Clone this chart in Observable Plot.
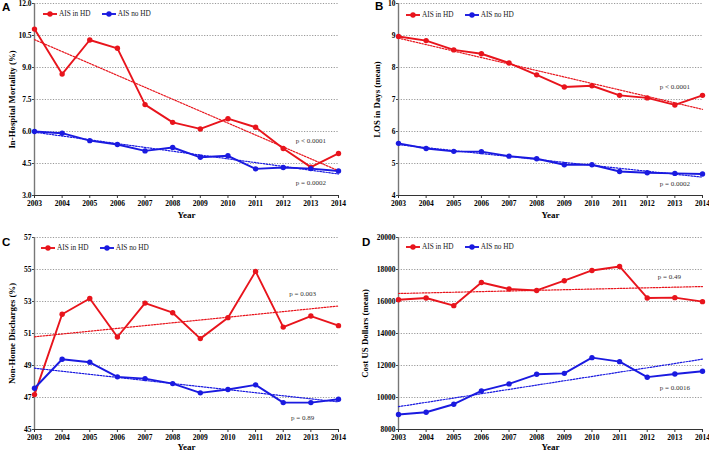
<!DOCTYPE html>
<html><head><meta charset="utf-8">
<script src="https://cdn.jsdelivr.net/npm/d3@7"></script>
<script src="https://cdn.jsdelivr.net/npm/@observablehq/plot@0.6"></script>
<style>
body{margin:0;background:#fff;}
#wrap{position:relative;width:709px;height:452px;overflow:hidden;font-family:"Liberation Serif","Times New Roman",serif;background:#fff;}
.panel{position:absolute;}
.panel svg{overflow:visible;}
.letter{position:absolute;font-family:"Liberation Sans",Arial,sans-serif;font-weight:bold;font-size:11.5px;line-height:1;color:#000;}
.legend{position:absolute;display:flex;align-items:center;font-size:7.3px;color:#222;white-space:nowrap;}
.legend .item{display:flex;align-items:center;margin-right:11px;}
.legend svg{margin-right:2px;}
</style></head>
<body><div id="wrap"></div>
<script>
// ---------------- data ----------------
const years = [2003,2004,2005,2006,2007,2008,2009,2010,2011,2012,2013,2014];
const seriesNames = ["AIS in HD","AIS no HD"];
const seriesColors = ["#e8141c","#1a1ae0"];

// A: In-hospital mortality (%)
const mortalityHD   = [10.80,8.69,10.29,9.90,7.26,6.43,6.12,6.60,6.20,5.20,4.33,4.97];
const mortalityNoHD = [6.00,5.92,5.57,5.39,5.09,5.25,4.79,4.86,4.25,4.31,4.26,4.15];
// B: LOS in days (mean)
const losHD   = [8.97,8.84,8.55,8.43,8.14,7.77,7.39,7.43,7.13,7.05,6.83,7.13];
const losNoHD = [5.63,5.47,5.38,5.37,5.23,5.15,4.96,4.96,4.75,4.71,4.69,4.67];
// C: Non-home discharges (%)
const nonHomeHD   = [47.18,52.20,53.19,50.78,52.90,52.30,50.68,51.99,54.88,51.40,52.09,51.49];
const nonHomeNoHD = [47.58,49.39,49.20,48.29,48.18,47.87,47.29,47.50,47.79,46.68,46.68,46.89];
// D: Cost US dollars (mean)
const costHD   = [16110,16220,15740,17190,16780,16690,17300,17940,18190,16220,16240,15990];
const costNoHD = [8940,9080,9580,10410,10850,11450,11510,12490,12240,11270,11470,11640];

// tick values
const ticksA = [3.0,4.5,6.0,7.5,9.0,10.5,12.0];
const ticksB = [4,5,6,7,8,9,10];
const ticksC = [45,47,49,51,53,55,57];
const ticksD = [8000,10000,12000,14000,16000,18000,20000];

// p-value annotations (year, value where the label sits)
const pA = [{text:"p < 0.0001", year:2013.0, value:5.58},{text:"p = 0.0002", year:2013.0, value:3.60}];
const pB = [{text:"p < 0.0001", year:2013.0, value:7.41},{text:"p = 0.0002", year:2013.0, value:4.38}];
const pC = [{text:"p = 0.003", year:2012.7, value:53.48},{text:"p = 0.89", year:2012.7, value:45.73}];
const pD = [{text:"p = 0.49", year:2012.8, value:17520},{text:"p = 0.0016", year:2013.0, value:10600}];

// ---------------- layout ----------------
const panels = [
  {key:"A", left:0,   top:0,   width:355, height:225, mt:3,  mr:17, mb:30, ml:34,
   yLabel:"In-Hospital Mortality (%)", ticks:ticksA, fmt:d3.format(".1f"), hd:mortalityHD, no:mortalityNoHD, pv:pA,
   letter:[2,2], legend:[43,9], ylo:26, xlo:22, tp:2.5},
  {key:"B", left:355, top:0,   width:354, height:225, mt:3,  mr:7,  mb:30, ml:43,
   yLabel:"LOS in Days (mean)", ticks:ticksB, fmt:d3.format("d"), hd:losHD, no:losNoHD, pv:pB,
   letter:[375,1], legend:[406,10], ylo:25, xlo:22, tp:2.5},
  {key:"C", left:0,   top:225, width:355, height:227, mt:12, mr:17, mb:23, ml:34,
   yLabel:"Non-Home Discharges (%)", ticks:ticksC, fmt:d3.format("d"), hd:nonHomeHD, no:nonHomeNoHD, pv:pC,
   letter:[2,237], legend:[41,243], ylo:26, xlo:20.5, tp:1.8},
  {key:"D", left:355, top:225, width:354, height:227, mt:12, mr:7,  mb:23, ml:43,
   yLabel:"Cost US Dollars (mean)", ticks:ticksD, fmt:d3.format("d"), hd:costHD, no:costNoHD, pv:pD,
   letter:[362,237], legend:[406,242], ylo:37, xlo:20.5, tp:1.8}
];

const wrap = document.getElementById("wrap");

for (const p of panels) {
  const rows = [];
  years.forEach((yr, i) => {
    rows.push({year: yr, value: p.hd[i], series: seriesNames[0]});
    rows.push({year: yr, value: p.no[i], series: seriesNames[1]});
  });
  const yDomain = [p.ticks[0], p.ticks[p.ticks.length - 1]];
  const chart = Plot.plot({
    width: p.width, height: p.height,
    marginTop: p.mt, marginRight: p.mr, marginBottom: p.mb, marginLeft: p.ml,
    style: {background: "transparent", fontFamily: "'Liberation Serif','Times New Roman',serif", overflow: "visible"},
    x: {domain: [years[0], years[years.length - 1]]},
    y: {domain: yDomain},
    color: {domain: seriesNames, range: seriesColors},
    marks: [
      Plot.gridY(p.ticks, {stroke: "#999", strokeOpacity: 1, strokeDasharray: "1.2,1.5", strokeWidth: 1}),
      Plot.axisY(p.ticks, {tickFormat: p.fmt, tickSize: 2, tickPadding: 1, fontSize: 7.5, fontWeight: "bold", label: null, stroke: "#444"}),
      Plot.axisY([], {label: p.yLabel, labelArrow: "none", labelAnchor: "center", labelOffset: p.ylo, fontSize: 8.8, fontWeight: "bold", tickSize: 0}),
      Plot.axisX(years, {tickFormat: d3.format("d"), tickSize: 3, tickPadding: p.tp, fontSize: 7.5, fontWeight: "bold", label: null, stroke: "#333"}),
      Plot.axisX([], {label: "Year", labelArrow: "none", labelAnchor: "center", labelOffset: p.xlo, fontSize: 9, fontWeight: "bold", tickSize: 0}),
      Plot.ruleX([years[0]], {stroke: "#777", strokeWidth: 1.4}),
      Plot.ruleY([yDomain[0]], {stroke: "#333", strokeWidth: 1}),
      Plot.line(rows, {x: "year", y: "value", z: "series", stroke: "series", strokeWidth: 1.9}),
      Plot.linearRegressionY(rows, {x: "year", y: "value", z: "series", stroke: "series", ci: 0, strokeWidth: 1.2, strokeDasharray: "1.6,1.4"}),
      Plot.dot(rows, {x: "year", y: "value", fill: "series", r: 2.7}),
      Plot.text(p.pv, {x: "year", y: "value", text: "text", fontSize: 7, fill: "#333", textAnchor: "middle"})
    ]
  });
  const div = document.createElement("div");
  div.className = "panel";
  div.style.left = p.left + "px";
  div.style.top = p.top + "px";
  div.appendChild(chart);
  wrap.appendChild(div);

  const letter = document.createElement("div");
  letter.className = "letter";
  letter.textContent = p.key;
  letter.style.left = p.letter[0] + "px";
  letter.style.top = p.letter[1] + "px";
  wrap.appendChild(letter);

  const leg = document.createElement("div");
  leg.className = "legend";
  leg.style.left = p.legend[0] + "px";
  leg.style.top = p.legend[1] + "px";
  seriesNames.forEach((name, i) => {
    const item = document.createElement("span");
    item.className = "item";
    item.innerHTML = `<svg width="14" height="8"><line x1="0" y1="4" x2="14" y2="4" stroke="${seriesColors[i]}" stroke-width="1.9"/><circle cx="7" cy="4" r="2.7" fill="${seriesColors[i]}"/></svg><span>${name}</span>`;
    leg.appendChild(item);
  });
  wrap.appendChild(leg);
}
</script>
</body></html>
